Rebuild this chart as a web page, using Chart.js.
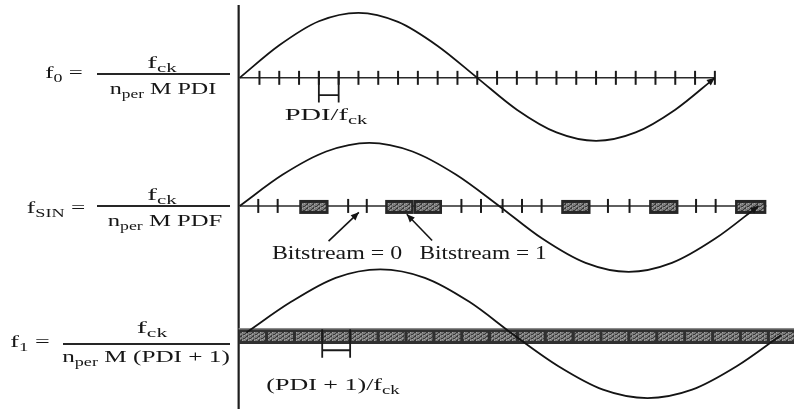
<!DOCTYPE html>
<html><head><meta charset="utf-8">
<script src="https://cdn.jsdelivr.net/npm/chart.js@4.4.1/dist/chart.umd.min.js"></script>
<style>
html,body{margin:0;padding:0;background:#fff;}
#wrap{position:relative;width:794px;height:409px;overflow:hidden;background:#fff;}
canvas{position:absolute;left:0;top:0;}
.t{position:absolute;font-family:"Liberation Serif","Times New Roman",serif;color:#161616;white-space:nowrap;line-height:1;transform-origin:center center;}
.t sub{font-size:0.72em;vertical-align:-0.35em;line-height:0;}
.bar{position:absolute;height:2px;background:#262626;}
</style></head>
<body><div id="wrap"><canvas id="c" width="794" height="409"></canvas></div>
<script>
// ================= DATA (time in clock periods PDI/f_ck, amplitude normalised) =================
// Panel 1: f0, one clock tick every PDI/f_ck
const f0Ticks = [1,2,3,4,5,6,7,8,9,10,11,12,13,14,15,16,17,18,19,20,21,22,23,24];
const f0AxisEnd = 24;
const f0WaveT = [0,2,4,6,8,10,12,14,16,18,20,22,24];
const f0WaveV = [0,0.5,0.87,1.0,0.86,0.49,0,-0.49,-0.84,-0.97,-0.84,-0.49,0];
const f0Bracket = [4,5];

// Panel 2: f_SIN, bitstream (0 = tick, 1 = box)
const sinBit0Ticks = [0.94,1.92,5.48,6.42,11.2,12.19,13.28,14.26,15.25,18.6,19.69,23.05,24.04];
const sinBit1Start = [3.01,7.35,8.79,16.24,20.68,25.02];
const sinBit1End   = [4.49,8.79,10.22,17.72,22.16,26.6];
const sinAxisEnd = 26.6;
const sinWaveT = [0,2.18,4.37,6.55,8.73,10.92,13.1,15.28,17.47,19.65,21.83,24.02,26.2];
const sinWaveV = [0,0.49,0.85,0.985,0.85,0.49,0,-0.51,-0.89,-1.03,-0.89,-0.51,0];

// Panel 3: f1, every period is PDI+1 clocks (all bits = 1)
const f1CellStart = [-0.05,1.36,2.77,4.17,5.58,6.99,8.4,9.81,11.21,12.62,14.03,15.44,16.85,18.25,19.66,21.07,22.48,23.89,25.29,26.7];
const f1CellWidth = 1.408;
const f1WaveT = [0.35,2.6,4.85,7.1,9.35,11.6,13.85,16.1,18.35,20.6,22.85,25.1,27.35];
const f1WaveV = [0.04,0.51,0.88,1.01,0.88,0.51,0,-0.48,-0.84,-0.97,-0.84,-0.48,0];
const f1Bracket = [4.17,5.58];

// Annotation arrows (panel 2): [fromT, fromV, toT, toV]
const arrowBit0 = [4.49,-0.55,6.02,-0.10];
const arrowBit1 = [9.72,-0.54,8.44,-0.13];

// ================= LAYOUT =================
const W = 794, H = 409;
const ORIGIN_PX = 236, PX_PER_T = 20.26;
function yRange(basePx, ampPx){ return {min: -(H-basePx)/ampPx, max: basePx/ampPx}; }
const r0 = yRange(72,68), r1 = yRange(206,67), r2 = yRange(341,68);

const pts = (T,V)=>T.map((t,i)=>({x:t,y:V[i]}));
const lineStyle = {showLine:true,borderColor:'#141414',borderWidth:1.8,pointRadius:0,cubicInterpolationMode:'monotone',fill:false};

function bracketPts(b, top, bottom, mid){
  return [{x:b[0],y:top},{x:b[0],y:bottom},{x:b[0],y:null},{x:b[0],y:mid},{x:b[1],y:mid},{x:b[1],y:null},{x:b[1],y:top},{x:b[1],y:bottom}];
}

const datasets = [
  Object.assign({label:'f0 wave',yAxisID:'y0',data:pts(f0WaveT,f0WaveV),arrow:true},lineStyle),
  Object.assign({label:'f_SIN wave',yAxisID:'y1',data:pts(sinWaveT,sinWaveV),arrow:true},lineStyle),
  Object.assign({label:'f1 wave',yAxisID:'y2',data:pts(f1WaveT,f1WaveV)},lineStyle),
  {label:'arrow0',yAxisID:'y1',data:[{x:arrowBit0[0],y:arrowBit0[1]},{x:arrowBit0[2],y:arrowBit0[3]}],showLine:true,borderColor:'#141414',borderWidth:1.6,pointRadius:0,arrow:true},
  {label:'arrow1',yAxisID:'y1',data:[{x:arrowBit1[0],y:arrowBit1[1]},{x:arrowBit1[2],y:arrowBit1[3]}],showLine:true,borderColor:'#141414',borderWidth:1.6,pointRadius:0,arrow:true},
  {label:'f0 ticks',yAxisID:'y0',data:f0Ticks.map(t=>({x:t,y:0})),showLine:false,pointStyle:'line',rotation:90,pointRadius:7,borderColor:'#1a1a1a',borderWidth:2,pointBorderWidth:2},
  {label:'sin ticks',yAxisID:'y1',data:sinBit0Ticks.map(t=>({x:t,y:0})),showLine:false,pointStyle:'line',rotation:90,pointRadius:7,borderColor:'#1a1a1a',borderWidth:2,pointBorderWidth:2},
  {label:'f0 bracket',yAxisID:'y0',data:bracketPts(f0Bracket,0.1,-0.38,-0.265),showLine:true,spanGaps:false,borderColor:'#1a1a1a',borderWidth:1.8,pointRadius:0},
  {label:'f1 bracket',yAxisID:'y2',data:bracketPts(f1Bracket,0.09,-0.35,-0.235),showLine:true,spanGaps:false,borderColor:'#1a1a1a',borderWidth:1.8,pointRadius:0},
  {label:'f0 axis',yAxisID:'y0',data:[{x:0,y:0},{x:f0AxisEnd,y:0}],showLine:true,borderColor:'#2a2a2a',borderWidth:1.5,pointRadius:0},
  {label:'sin axis',yAxisID:'y1',data:[{x:0,y:0},{x:sinAxisEnd,y:0}],showLine:true,borderColor:'#2a2a2a',borderWidth:1.5,pointRadius:0},
];

function makePattern(ctx){
  const c = document.createElement('canvas'); c.width=6; c.height=4;
  const g = c.getContext('2d');
  g.fillStyle='#7a7a7a'; g.fillRect(0,0,6,4);
  g.fillStyle='#3a3a3a'; g.fillRect(0,0,2,1); g.fillRect(3,2,2,1); g.fillRect(1,3,1,1); g.fillRect(5,1,1,1);
  g.fillStyle='#a6a6a6'; g.fillRect(2,0,1,1); g.fillRect(0,2,1,1); g.fillRect(4,3,1,1);
  return ctx.createPattern(c,'repeat');
}
function drawBox(ctx,x0,x1,y0,y1,pat){
  ctx.fillStyle='#262626'; ctx.fillRect(x0,y0,x1-x0,y1-y0);
  ctx.fillStyle=pat; ctx.fillRect(x0+2.5,y0+3,x1-x0-5,y1-y0-6);
}

const diagram = {
  id:'diagram',
  beforeDatasetsDraw(chart){
    const ctx = chart.ctx, x = chart.scales.x;
    const pat = makePattern(ctx);
    ctx.save();
    // main vertical axis
    ctx.strokeStyle='#1e1e1e'; ctx.lineWidth=2.2;
    const ax = x.getPixelForValue(0)-1;
    ctx.beginPath(); ctx.moveTo(ax,5); ctx.lineTo(ax,H); ctx.stroke();
    // panel 3 band of f1 cells
    const y2 = chart.scales.y2, yc = y2.getPixelForValue(0)+1;
    const top = yc-8, bot = yc+8;
    const a0 = x.getPixelForValue(f1CellStart[0]);
    ctx.fillStyle='#303030'; ctx.fillRect(a0,top,W-a0,bot-top);
    ctx.fillStyle='#8c8c8c'; ctx.fillRect(a0,top,W-a0,1.5);
    f1CellStart.forEach(s=>{
      const a = x.getPixelForValue(s), b = x.getPixelForValue(s+f1CellWidth);
      ctx.fillStyle=pat; ctx.fillRect(a+1.5,top+4,b-a-3,bot-top-7);
    });
    ctx.restore();
  },
  afterDatasetDraw(chart,args){
    if (chart.data.datasets[args.index].label!=='sin axis') return;
    const ctx = chart.ctx, x = chart.scales.x, y1 = chart.scales.y1;
    const pat = makePattern(ctx);
    const yc = y1.getPixelForValue(0)+1;
    ctx.save();
    sinBit1Start.forEach((s,i)=>{
      drawBox(ctx,x.getPixelForValue(s),x.getPixelForValue(sinBit1End[i]),yc-7,yc+7,pat);
    });
    ctx.restore();
  },
  afterDatasetsDraw(chart){
    const ctx = chart.ctx;
    chart.data.datasets.forEach((ds,i)=>{
      if(!ds.arrow) return;
      const d = chart.getDatasetMeta(i).data, n = d.length;
      const p1 = d[n-1], p0 = d[n-2];
      const ang = Math.atan2(p1.y-p0.y,p1.x-p0.x);
      const L = 8, Wd = 3.5;
      ctx.save(); ctx.fillStyle='#141414';
      ctx.translate(p1.x,p1.y); ctx.rotate(ang);
      ctx.beginPath(); ctx.moveTo(0,0); ctx.lineTo(-L,-Wd); ctx.lineTo(-L,Wd); ctx.closePath(); ctx.fill();
      ctx.restore();
    });
  }
};

new Chart(document.getElementById('c'),{
  type:'scatter',
  data:{datasets},
  options:{
    responsive:false,animation:false,devicePixelRatio:1,
    layout:{padding:0},
    plugins:{legend:{display:false},tooltip:{enabled:false}},
    scales:{
      x:{type:'linear',display:false,min:-ORIGIN_PX/PX_PER_T,max:(W-ORIGIN_PX)/PX_PER_T},
      y0:{type:'linear',axis:'y',display:false,min:r0.min,max:r0.max},
      y1:{type:'linear',axis:'y',display:false,min:r1.min,max:r1.max},
      y2:{type:'linear',axis:'y',display:false,min:r2.min,max:r2.max}
    }
  },
  plugins:[diagram]
});

// ================= TEXT (real text) =================
const labels = [
  {h:'f<sub>0</sub> =',cx:64,cy:72,w:38,fs:17},
  {h:'f<sub>ck</sub>',cx:162,cy:62,w:29,fs:17},
  {h:'n<sub>per</sub> M PDI',cx:163,cy:89,w:107,fs:16},
  {h:'PDI/f<sub>ck</sub>',cx:326,cy:114,w:82,fs:17},
  {h:'f<sub>SIN</sub> =',cx:56,cy:207,w:58,fs:17},
  {h:'f<sub>ck</sub>',cx:162,cy:194,w:29,fs:17},
  {h:'n<sub>per</sub> M PDF',cx:165,cy:221,w:114,fs:16},
  {h:'Bitstream = 0',cx:337,cy:253,w:130,fs:18},
  {h:'Bitstream = 1',cx:483,cy:253,w:127,fs:18},
  {h:'f<sub>1</sub> =',cx:30,cy:341,w:40,fs:17},
  {h:'f<sub>ck</sub>',cx:152,cy:327,w:30,fs:17},
  {h:'n<sub>per</sub> M (PDI + 1)',cx:146,cy:357,w:167,fs:16},
  {h:'(PDI + 1)/f<sub>ck</sub>',cx:333,cy:384,w:133,fs:17}
];
const bars = [{x0:97,x1:230,y:73},{x0:97,x1:230,y:205},{x0:63,x1:230,y:343}];
const wrap = document.getElementById('wrap');
bars.forEach(b=>{const d=document.createElement('div');d.className='bar';d.style.left=b.x0+'px';d.style.width=(b.x1-b.x0)+'px';d.style.top=b.y+'px';wrap.appendChild(d);});
labels.forEach(l=>{
  const d=document.createElement('div');d.className='t';d.innerHTML=l.h;
  d.style.fontSize=l.fs+'px';d.style.left=l.cx+'px';d.style.top=l.cy+'px';
  wrap.appendChild(d);
  const s = l.w/d.offsetWidth;
  d.style.transform='translate(-50%,-50%) scaleX('+s.toFixed(3)+')';
});
</script>
</body></html>
